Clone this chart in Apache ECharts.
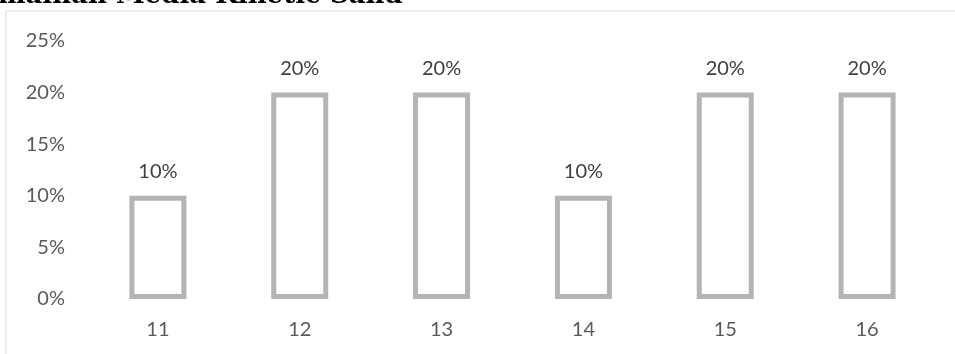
<!DOCTYPE html>
<html>
<head>
<meta charset="utf-8">
<script src="https://cdn.jsdelivr.net/npm/echarts@6/dist/echarts.min.js"></script>
<style>
  html, body { margin: 0; padding: 0; background: #fff; }
  #chart { width: 955px; height: 354px; }
</style>
</head>
<body>
<div id="chart"></div>
<script>
// данные графика
const categories = ["11", "12", "13", "14", "15", "16"];
const values = [0.10, 0.20, 0.20, 0.10, 0.20, 0.20];
const yTicks = [0, 0.05, 0.10, 0.15, 0.20, 0.25];
const titleText = "mainan Media Kinetic Sand";

const chart = echarts.init(document.getElementById("chart"));

const pct = (v) => Math.round(v * 100) + "%";

const option = {
    animation: false,
    textStyle: { fontFamily: "Lato" },
    graphic: [
        {
            // рамка области графика (видна только слева и сверху)
            type: "rect",
            shape: { x: 6, y: 11, width: 1000, height: 400 },
            style: { fill: "none", stroke: "#d9d9d9", lineWidth: 1 },
            silent: true
        },
        {
            // обрезанный заголовок
            type: "text",
            left: -2,
            top: -17,
            style: {
                text: titleText,
                font: "bold 26px 'DejaVu Serif'",
                fill: "#000"
            }
        }
    ],
    grid: { left: 87, right: 17, top: 41, bottom: 55 },
    xAxis: {
        type: "category",
        data: categories,
        axisLine: { show: false },
        axisTick: { show: false },
        axisLabel: { color: "#595959", fontSize: 20, margin: 21 }
    },
    yAxis: {
        type: "value",
        min: yTicks[0],
        max: yTicks[yTicks.length - 1],
        interval: 0.05,
        splitLine: { show: false },
        axisLine: { show: false },
        axisTick: { show: false },
        axisLabel: { color: "#595959", fontSize: 20, margin: 22, formatter: pct }
    },
    series: [{
        type: "bar",
        data: values,
        barWidth: 57,
        itemStyle: { color: "#fff", borderColor: "#b4b4b4", borderWidth: 5 },
        label: {
            show: true,
            position: "top",
            distance: 14,
            color: "#404040",
            fontSize: 20,
            formatter: (p) => pct(p.value)
        }
    }]
};

chart.setOption(option);
</script>
</body>
</html>
